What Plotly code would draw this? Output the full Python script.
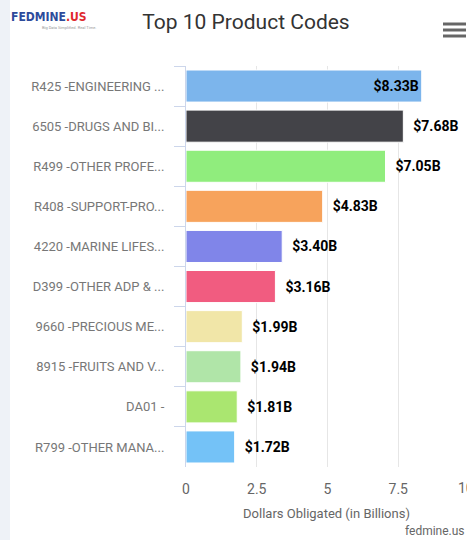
import plotly.graph_objects as go

categories = [
    "R425 -ENGINEERING ...",
    "6505 -DRUGS AND BI...",
    "R499 -OTHER PROFE...",
    "R408 -SUPPORT-PRO...",
    "4220 -MARINE LIFES...",
    "D399 -OTHER ADP & ...",
    "9660 -PRECIOUS ME...",
    "8915 -FRUITS AND V...",
    "DA01 -",
    "R799 -OTHER MANA...",
]
values = [8.33, 7.68, 7.05, 4.83, 3.40, 3.16, 1.99, 1.94, 1.81, 1.72]
colors = ["#7cb5ec", "#434348", "#90ed7d", "#f7a35c", "#8085e9",
          "#f15c80", "#f1e6a8", "#b0e5a8", "#aae670", "#74c2f7"]
text_positions = ["inside"] + ["outside"] * 9
x_ticks = [0, 2.5, 5, 7.5, 10]
x_tick_labels = ["0", "2.5", "5", "7.5", "10"]

W, H = 467, 540
L, R, T, B = 186, 0, 66, 73
PW, PH = W - L - R, H - T - B
XMAX = 9.93


def px2x(p):
    return (p - L) / PW


def px2y(p):
    return (H - B - p) / PH


fig = go.Figure()
fig.add_trace(go.Bar(
    y=categories,
    x=values,
    orientation="h",
    marker=dict(color=colors, line=dict(color="white", width=1)),
    texttemplate="\u00a0\u00a0$%{x:.2f}B",
    textposition=text_positions,
    insidetextanchor="end",
    textfont=dict(family="Roboto", size=14, color="#000000", weight="bold"),
    cliponaxis=False,
    width=0.8,
    hoverinfo="skip",
))

shapes = [
    dict(type="rect", xref="paper", yref="paper",
         x0=px2x(0), x1=px2x(10), y0=px2y(0), y1=px2y(H),
         fillcolor="#eef2f7", line=dict(width=0), layer="below"),
]
for yy in (24, 30, 36):
    shapes.append(dict(type="line", xref="paper", yref="paper",
                       x0=px2x(443), x1=px2x(466), y0=px2y(yy), y1=px2y(yy),
                       line=dict(color="#666666", width=3)))

annotations = [
    dict(text="<b><span style='color:#2d4b9b'>FEDMINE</span><span style='color:#e0282e'>.US</span></b>",
         xref="paper", yref="paper", x=px2x(9), y=px2y(17), xanchor="left", yanchor="middle",
         showarrow=False, font=dict(family="DejaVu Sans Condensed", size=12)),
    dict(text="Big Data Simplified. Real Time.", xref="paper", yref="paper",
         x=px2x(40), y=px2y(28), xanchor="left", yanchor="middle", showarrow=False,
         font=dict(family="Roboto", size=4, color="#999999")),
    dict(text=x_tick_labels[-1], xref="paper", yref="paper",
         x=px2x(456), y=px2y(488), xanchor="left", yanchor="middle",
         showarrow=False, font=dict(family="Roboto", size=14, color="#666666")),
    dict(text="fedmine.us", xref="paper", yref="paper",
         x=px2x(467), y=px2y(531), xanchor="right", yanchor="middle",
         showarrow=False, font=dict(family="Roboto", size=12, color="#666666")),
]

fig.update_layout(
    width=W, height=H,
    margin=dict(l=L, r=R, t=T, b=B, pad=0),
    paper_bgcolor="white", plot_bgcolor="white",
    font=dict(family="Roboto", color="#666666"),
    title=dict(text="Top 10 Product Codes", x=246 / W, y=1 - 22 / H,
               xanchor="center", yanchor="middle",
               font=dict(family="Roboto", size=21, color="#333333")),
    showlegend=False,
    bargap=0.2,
    shapes=shapes,
    annotations=annotations,
    xaxis=dict(range=[0, XMAX], tickvals=x_ticks[:-1], ticktext=x_tick_labels[:-1],
               showgrid=True, gridcolor="#e6e6e6", gridwidth=1, zeroline=False,
               showline=False, ticks="", tickfont=dict(size=14, color="#666666"),
               ticklabelstandoff=12,
               title=dict(text="Dollars Obligated (in Billions)",
                          font=dict(size=13, color="#666666"), standoff=12)),
    yaxis=dict(autorange="reversed", showline=True, linecolor="#ccd6eb", linewidth=1,
               ticks="outside", tickson="boundaries", ticklen=11, tickcolor="#ccd6eb",
               tickfont=dict(size=13, color="#777777"), showgrid=False,
               ticklabelstandoff=18),
)

fig.write_html("out.html", config={"displayModeBar": False},
               post_script="document.body.style.margin='0px';document.body.style.overflow='hidden';")
